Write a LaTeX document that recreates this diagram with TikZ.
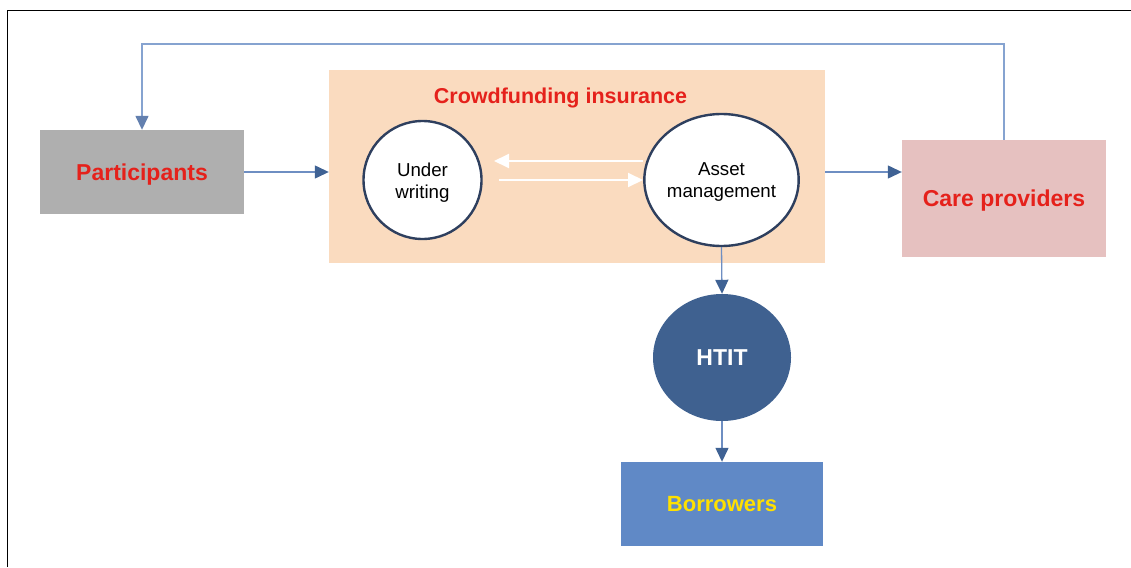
\documentclass[tikz,border=0pt]{standalone}
\usepackage{fontspec}
\setmainfont{Liberation Sans}
\usetikzlibrary{arrows.meta,shapes.geometric}
\definecolor{redtxt}{HTML}{E5211B}
\definecolor{grayfill}{HTML}{AFAFAF}
\definecolor{orangefill}{HTML}{FADBBF}
\definecolor{pinkfill}{HTML}{E6C1C0}
\definecolor{bluefill}{HTML}{6089C6}
\definecolor{navyfill}{HTML}{3F6190}
\definecolor{ringcol}{HTML}{2E3F5E}
\definecolor{linecol}{HTML}{6E8EC2}
\definecolor{fbcol}{HTML}{86A3D0}
\definecolor{tipcol}{HTML}{3F6294}
\definecolor{yellowtxt}{HTML}{FFE000}
\begin{document}
\begin{tikzpicture}[x=1pt,y=-1pt,
  box/.style={rectangle, draw=none, inner sep=0pt, text height=16pt, text depth=0pt, font=\fontsize{23}{26}\selectfont\bfseries},
  ring/.style={draw=ringcol, line width=2.4pt, fill=white, inner sep=0pt, align=center, font=\fontsize{18.7}{22}\selectfont},
  arr/.style={draw=linecol, line width=1.3pt, -{Triangle[length=14pt,width=13pt,color=tipcol]}},
  fb/.style={draw=fbcol, line width=1.5pt, -{Triangle[length=14pt,width=13pt,color=linecol!90!black]}},
  warr/.style={draw=white, line width=2pt, -{Triangle[length=15pt,width=14pt,color=white]}}]
\useasboundingbox (0,0) rectangle (1131,567);
\draw[black, line width=1.2pt] (7.5,567) -- (7.5,10.5) -- (1131,10.5);

\node[rectangle, fill=orangefill, inner sep=0pt, minimum width=496, minimum height=193] (cf) at (577,166.5) {};
\node[font=\fontsize{21.5}{26}\selectfont\bfseries, text=redtxt, inner sep=0pt, text height=15.4pt, text depth=0pt] (title) at (560.5,96) {Crowdfunding insurance};

\node[box, fill=grayfill, text=redtxt, minimum width=204, minimum height=84] (part) at (142,172) {Participants};
\node[box, fill=pinkfill, text=redtxt, minimum width=204, minimum height=117] (care) at (1004,198.5) {Care providers};
\node[box, fill=bluefill, text=yellowtxt, minimum width=202, minimum height=84, text height=15.4pt, font=\fontsize{22}{26}\selectfont\bfseries] (borr) at (722,504) {Borrowers};

\node[ring, circle, minimum size=118] (uw) at (422.5,180) {\rule{0pt}{19.5pt}Under\\writing};
\node[ring, ellipse, minimum width=143, minimum height=132] (asset) at (721.5,180) {\rule{0pt}{17.5pt}Asset\\management};
\node[ellipse, fill=navyfill, draw=none, inner sep=0pt, minimum width=138, minimum height=127, text=white, font=\fontsize{23}{26}\selectfont\bfseries] (htit) at (722,357.5) {HTIT};

\coordinate (wuA) at (643,161);
\coordinate (wuB) at (494,161);
\coordinate (wlA) at (499,180);
\coordinate (wlB) at (643,180);
\draw[warr] (wuA) -- (wuB);
\draw[warr] (wlA) -- (wlB);

\draw[arr] (part.east) -- (part.east -| cf.west);
\draw[arr] (part.east -| cf.east) -- (part.east -| care.west);
\draw[fb] (care.north) -- ++(0,-96) -| (part.north);
\draw[arr] (asset.south) -- (htit.north);
\draw[arr] (htit.south) -- (borr.north);
\end{tikzpicture}
\end{document}
